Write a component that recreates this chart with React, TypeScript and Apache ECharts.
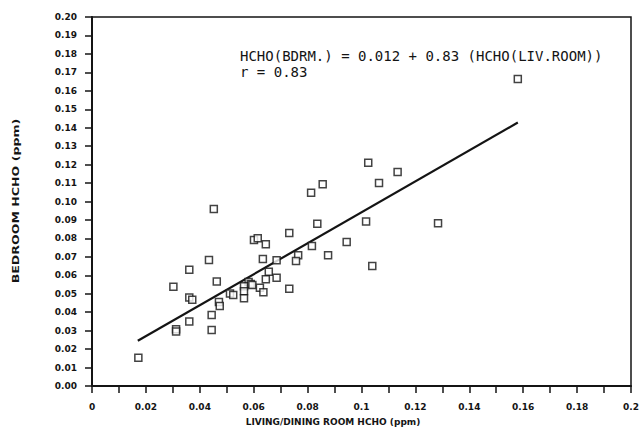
import React, { useEffect, useRef } from "react";
import * as echarts from "echarts";

// Living/dining room HCHO (ppm) vs bedroom HCHO (ppm)
const livingRoom = [
  0.0813, 0.0452, 0.0836, 0.1017, 0.0732, 0.0601, 0.0615, 0.0645, 0.0945, 0.0816,
  0.0434, 0.0634, 0.0685, 0.0765, 0.0757, 0.0876, 0.0361, 0.0656, 0.0463, 0.0685,
  0.0645, 0.0302, 0.0581, 0.0589, 0.0595, 0.0564, 0.0564, 0.0623, 0.0636, 0.0732,
  0.0512, 0.0524, 0.0564, 0.0361, 0.0372, 0.0471, 0.0474, 0.0444, 0.0361, 0.0312,
  0.0312, 0.0444, 0.0172, 0.1284, 0.104, 0.158, 0.1025, 0.1134, 0.1065, 0.0856,
];
const bedroom = [
  0.1048, 0.0959, 0.088, 0.0891, 0.0829, 0.0791, 0.0801, 0.0768, 0.078, 0.0759,
  0.0683, 0.0688, 0.0681, 0.0708, 0.0678, 0.0708, 0.063, 0.0619, 0.0567, 0.0587,
  0.0578, 0.0538, 0.0564, 0.0553, 0.0547, 0.054, 0.0513, 0.0533, 0.0508, 0.0527,
  0.0502, 0.0493, 0.0475, 0.0479, 0.0468, 0.0455, 0.0434, 0.0385, 0.0349, 0.0307,
  0.0296, 0.0304, 0.0153, 0.0882, 0.065, 0.1664, 0.121, 0.116, 0.11, 0.1093,
];

// Regression line end points
const fitX = [0.017, 0.158];
const fitY = [0.0245, 0.1428];

const equationLine1 = "HCHO(BDRM.) = 0.012 + 0.83 (HCHO(LIV.ROOM))";
const equationLine2 = "r = 0.83";
const xTitle = "LIVING/DINING ROOM HCHO (ppm)";
const yTitle = "BEDROOM HCHO (ppm)";

const ink = "#141414";
const tickFont = "DejaVu Sans";

export default function App() {
  const ref = useRef<HTMLDivElement>(null);

  useEffect(() => {
    if (!ref.current) return;
    const chart = echarts.init(ref.current, undefined, { renderer: "svg" });
    const points = livingRoom.map((x, i) => [x, bedroom[i]]);
    const fit = fitX.map((x, i) => [x, fitY[i]]);

    chart.setOption({
      animation: false,
      backgroundColor: "#ffffff",
      grid: {
        left: 92,
        right: 12,
        top: 17,
        bottom: 51,
        show: true,
        borderColor: ink,
        borderWidth: 1.5,
        containLabel: false,
        outerBoundsMode: "none",
      },
      xAxis: {
        type: "value",
        min: 0,
        max: 0.2,
        interval: 0.01,
        splitLine: { show: false },
        axisLine: { show: true, onZero: false, lineStyle: { color: ink, width: 2 } },
        axisTick: { show: true, length: 7, lineStyle: { color: ink, width: 1.5 } },
        axisLabel: {
          margin: 16,
          color: ink,
          fontFamily: tickFont,
          fontWeight: "bold",
          fontSize: 9,
          formatter: (v: number) => {
            const k = Math.round(v * 100);
            if (k % 2 === 1) return "";
            return String(k / 100);
          },
        },
      },
      yAxis: {
        type: "value",
        min: 0,
        max: 0.2,
        interval: 0.01,
        splitLine: { show: false },
        axisLine: { show: true, onZero: false, lineStyle: { color: ink, width: 2 } },
        axisTick: { show: true, length: 7, lineStyle: { color: ink, width: 1.5 } },
        axisLabel: {
          margin: 15,
          color: ink,
          fontFamily: tickFont,
          fontWeight: "bold",
          fontSize: 9,
          formatter: (v: number) => (Math.round(v * 100) / 100).toFixed(2),
        },
      },
      series: [
        {
          type: "scatter",
          data: points,
          symbol: "rect",
          symbolSize: 7,
          itemStyle: { color: "#ffffff", borderColor: ink, borderWidth: 1.5 },
          z: 3,
        },
        {
          type: "line",
          data: fit,
          symbol: "none",
          lineStyle: { color: ink, width: 2.2 },
          z: 2,
        },
      ],
      graphic: [
        {
          type: "text",
          left: 240,
          top: 49,
          style: {
            text: equationLine1,
            font: "14px 'DejaVu Sans Mono'",
            fill: ink,
          },
        },
        {
          type: "text",
          left: 240,
          top: 65,
          style: {
            text: equationLine2,
            font: "14px 'DejaVu Sans Mono'",
            fill: ink,
          },
        },
        {
          type: "text",
          x: 333,
          y: 422,
          style: {
            text: xTitle,
            font: "bold 9px 'DejaVu Sans'",
            fill: ink,
            align: "center",
            verticalAlign: "middle",
          },
        },
        {
          type: "text",
          x: 16,
          y: 201,
          rotation: Math.PI / 2,
          scaleX: 1.4,
          style: {
            text: yTitle,
            font: "bold 9px 'DejaVu Sans'",
            fill: ink,
            align: "center",
            verticalAlign: "middle",
          },
        },
      ],
    });

    return () => chart.dispose();
  }, []);

  return (
    <div
      ref={ref}
      style={{ position: "fixed", left: 0, top: 0, width: 643, height: 437, background: "#fff" }}
    />
  );
}
